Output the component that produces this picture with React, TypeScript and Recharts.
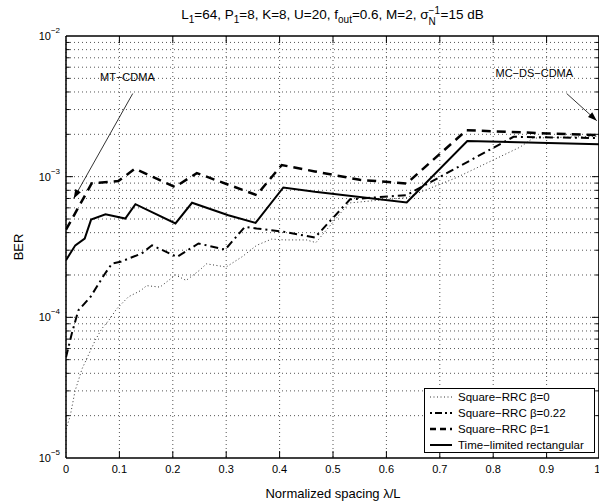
import React from "react";
import {
  LineChart,
  Line,
  XAxis,
  YAxis,
  CartesianGrid,
  ReferenceLine,
  ReferenceDot,
} from "recharts";

const FONT = '"Liberation Sans", Arial, Helvetica, sans-serif';

// normalized spacing λ/L and BER for each pulse shape
const rrc0X = [0, 0.008, 0.017, 0.03, 0.043, 0.055, 0.067, 0.08, 0.095, 0.117, 0.14, 0.151, 0.176, 0.205, 0.225, 0.25, 0.263, 0.3, 0.33, 0.357, 0.385, 0.41, 0.45, 0.468, 0.53, 0.638, 0.73, 0.85, 0.875, 1];
const rrc0Y = [1.6e-5, 2.0e-5, 3.0e-5, 4.3e-5, 5.5e-5, 6.9e-5, 8.3e-5, 9.5e-5, 1.15e-4, 1.4e-4, 1.55e-4, 1.68e-4, 1.64e-4, 2.0e-4, 1.83e-4, 2.16e-4, 2.4e-4, 2.28e-4, 2.7e-4, 3.25e-4, 3.6e-4, 3.55e-4, 3.55e-4, 3.4e-4, 6.5e-4, 7.1e-4, 9.8e-4, 1.62e-3, 1.88e-3, 1.94e-3];

const rrc022X = [0, 0.011, 0.023, 0.046, 0.071, 0.086, 0.102, 0.142, 0.161, 0.208, 0.248, 0.298, 0.335, 0.357, 0.41, 0.466, 0.532, 0.638, 0.838, 1];
const rrc022Y = [5.2e-5, 7.7e-5, 1.12e-4, 1.4e-4, 1.99e-4, 2.41e-4, 2.48e-4, 2.85e-4, 3.25e-4, 2.69e-4, 3.35e-4, 3.03e-4, 4.4e-4, 4.28e-4, 4.05e-4, 3.69e-4, 6.9e-4, 7.4e-4, 1.92e-3, 1.88e-3];

const rrc1X = [0, 0.016, 0.048, 0.098, 0.129, 0.204, 0.245, 0.357, 0.404, 0.466, 0.55, 0.638, 0.75, 0.9, 1];
const rrc1Y = [4.2e-4, 5.4e-4, 8.95e-4, 9.3e-4, 1.14e-3, 8.45e-4, 1.06e-3, 7.4e-4, 1.21e-3, 1.09e-3, 9.5e-4, 8.95e-4, 2.14e-3, 2.03e-3, 1.97e-3];

const rectX = [0, 0.0174, 0.035, 0.047, 0.074, 0.111, 0.13, 0.205, 0.236, 0.304, 0.355, 0.407, 0.466, 0.638, 0.7515, 1];
const rectY = [2.55e-4, 3.25e-4, 3.63e-4, 4.95e-4, 5.4e-4, 5.04e-4, 6.37e-4, 4.65e-4, 6.52e-4, 5.32e-4, 4.69e-4, 8.38e-4, 7.8e-4, 6.55e-4, 1.79e-3, 1.7e-3];

const xTicks = [0, 0.1, 0.2, 0.3, 0.4, 0.5, 0.6, 0.7, 0.8, 0.9, 1];
const yTicks = [1e-5, 1e-4, 1e-3, 1e-2];
const yMinor = [
  2e-5, 3e-5, 4e-5, 5e-5, 6e-5, 7e-5, 8e-5, 9e-5,
  2e-4, 3e-4, 4e-4, 5e-4, 6e-4, 7e-4, 8e-4, 9e-4,
  2e-3, 3e-3, 4e-3, 5e-3, 6e-3, 7e-3, 8e-3, 9e-3,
];

const zip = (xs: number[], ys: number[]) => xs.map((x, i) => ({ lambda: x, ber: ys[i] }));

const series = [
  { name: "Square\u2212RRC \u03b2=0", data: zip(rrc0X, rrc0Y), width: 1, dash: "1 2.5", legendDash: "1 2.5", color: "#333" },
  { name: "Square\u2212RRC \u03b2=0.22", data: zip(rrc022X, rrc022Y), width: 2, dash: "8 4 2 4", legendDash: "2 3 7 3 2 3", color: "#000" },
  { name: "Square\u2212RRC \u03b2=1", data: zip(rrc1X, rrc1Y), width: 2.5, dash: "9 6", legendDash: "6 4", color: "#000" },
  { name: "Time\u2212limited rectangular", data: zip(rectX, rectY), width: 2, dash: undefined, legendDash: undefined, color: "#000" },
];

function PowTick({ x, y, payload }: any) {
  const exp = Math.round(Math.log10(payload.value));
  return (
    <text x={x} y={y} textAnchor="end" fontSize={11} fontFamily={FONT} fill="#000">
      <tspan dy={4}>10</tspan>
      <tspan dy={-7} fontSize={8}>{`\u2212${-exp}`}</tspan>
    </text>
  );
}

function Arrow({ x1, y1, x2, y2 }: any) {
  const a = Math.atan2(y2 - y1, x2 - x1);
  const len = 9;
  const w = 3.2;
  const bx = x2 - len * Math.cos(a);
  const by = y2 - len * Math.sin(a);
  const pts = `${x2},${y2} ${bx + w * Math.sin(a)},${by - w * Math.cos(a)} ${bx - w * Math.sin(a)},${by + w * Math.cos(a)}`;
  return (
    <g>
      <line x1={x1} y1={y1} x2={x2} y2={y2} stroke="#000" strokeWidth={0.8} />
      <polygon points={pts} fill="#000" />
    </g>
  );
}

const noteText = (text: string) => (p: any) => (
  <text x={p.cx} y={p.cy} textAnchor="middle" dominantBaseline="central" fontSize={11} fontFamily={FONT} fill="#000">
    {text}
  </text>
);

const gridStyle = { stroke: "#555", strokeDasharray: "1 3", strokeWidth: 1 };

export default function App() {
  return (
    <div style={{ position: "absolute", left: 0, top: 0, width: 599, height: 504, overflow: "hidden", background: "#fff", fontFamily: FONT }}>
      <LineChart width={600} height={504} margin={{ top: 36, right: 0, bottom: 16, left: 6 }}>
        <CartesianGrid horizontal={false} {...gridStyle} />
        {[...yMinor, 1e-4, 1e-3].map((v) => (
          <ReferenceLine key={`g${v}`} y={v} {...gridStyle} />
        ))}
        <XAxis
          type="number"
          dataKey="lambda"
          domain={[0, 1]}
          ticks={xTicks}
          allowDataOverflow
          height={30}
          tickSize={5}
          tickMargin={2}
          tickLine={false}
          tick={{ fontSize: 11, fill: "#000", fontFamily: FONT }}
          axisLine={{ stroke: "#000", strokeWidth: 1.5 }}
        />
        <YAxis
          type="number"
          scale="log"
          domain={[1e-5, 1e-2]}
          ticks={yTicks}
          allowDataOverflow
          width={60}
          tickSize={4}
          tickMargin={2}
          tickLine={false}
          tick={<PowTick />}
          axisLine={{ stroke: "#000", strokeWidth: 1.5 }}
        />
        <ReferenceLine y={1e-2} stroke="#000" strokeWidth={1.5} />
        <ReferenceLine x={0.998} stroke="#000" strokeWidth={1.5} />
        {xTicks.slice(1, -1).map((v) => (
          <ReferenceLine key={`tb${v}`} segment={[{ x: v, y: 1e-5 }, { x: v, y: 1.12e-5 }]} stroke="#000" />
        ))}
        {xTicks.slice(1, -1).map((v) => (
          <ReferenceLine key={`tt${v}`} segment={[{ x: v, y: 1e-2 }, { x: v, y: 8.9e-3 }]} stroke="#000" />
        ))}
        {yTicks.slice(1, -1).map((v) => (
          <ReferenceLine key={`tl${v}`} segment={[{ x: 0, y: v }, { x: 0.013, y: v }]} stroke="#000" />
        ))}
        {yTicks.slice(1, -1).map((v) => (
          <ReferenceLine key={`tr${v}`} segment={[{ x: 0.998, y: v }, { x: 0.985, y: v }]} stroke="#000" />
        ))}
        {yMinor.map((v) => (
          <ReferenceLine key={`ml${v}`} segment={[{ x: 0, y: v }, { x: 0.007, y: v }]} stroke="#000" />
        ))}
        {yMinor.map((v) => (
          <ReferenceLine key={`mr${v}`} segment={[{ x: 0.998, y: v }, { x: 0.991, y: v }]} stroke="#000" />
        ))}
        {series.map((s) => (
          <Line
            key={s.name}
            data={s.data}
            dataKey="ber"
            name={s.name}
            type="linear"
            stroke={s.color}
            strokeWidth={s.width}
            strokeDasharray={s.dash}
            dot={false}
            activeDot={false}
            isAnimationActive={false}
          />
        ))}
        <ReferenceLine segment={[{ x: 0.125, y: 3.9e-3 }, { x: 0.0144, y: 7.0e-4 }]} shape={<Arrow />} />
        <ReferenceLine segment={[{ x: 0.9376, y: 3.9e-3 }, { x: 0.994, y: 2.5e-3 }]} shape={<Arrow />} />
        <ReferenceDot x={0.115} y={5.13e-3} r={0} shape={noteText("MT\u2212CDMA")} />
        <ReferenceDot x={0.877} y={5.46e-3} r={0} shape={noteText("MC\u2212DS\u2212CDMA")} />
      </LineChart>

      {/* title */}
      <div style={{ position: "absolute", left: 66, width: 533, top: 6, textAlign: "center", fontSize: 13.5, lineHeight: "18px", color: "#000", whiteSpace: "nowrap" }}>
        L<Sub>1</Sub>=64, P<Sub>1</Sub>=8, K=8, U=20, f<Sub>out</Sub>=0.6, M=2, {"\u03c3"}
        <span style={{ position: "relative", display: "inline-block", width: 12, height: 10 }}>
          <span style={{ position: "absolute", left: 0, top: -7, fontSize: 10 }}>{"\u2212"}1</span>
          <span style={{ position: "absolute", left: 0, top: 4, fontSize: 10 }}>N</span>
        </span>
        =15 dB
      </div>

      {/* axis titles */}
      <div style={{ position: "absolute", left: 18, top: 247, transform: "translate(-50%, -50%) rotate(-90deg)", fontSize: 13, whiteSpace: "nowrap" }}>
        BER
      </div>
      <div style={{ position: "absolute", left: 333, top: 493, transform: "translate(-50%, -50%)", fontSize: 13, whiteSpace: "nowrap" }}>
        Normalized spacing {"\u03bb"}/L
      </div>

      {/* legend */}
      <div style={{ position: "absolute", left: 424, top: 388, width: 171, height: 65, border: "1px solid #000", background: "#fff", boxSizing: "border-box", padding: "0 0 0 5px", fontSize: 11.5 }}>
        {series.map((s) => (
          <div key={s.name} style={{ display: "flex", alignItems: "center", height: 16 }}>
            <svg width={22} height={10}>
              <line x1={0} x2={22} y1={5} y2={5} stroke={s.color} strokeWidth={s.width} strokeDasharray={s.legendDash} />
            </svg>
            <span style={{ marginLeft: 6, whiteSpace: "nowrap" }}>{s.name}</span>
          </div>
        ))}
      </div>
    </div>
  );
}

function Sub({ children }: { children: React.ReactNode }) {
  return <span style={{ fontSize: 10, position: "relative", top: 4 }}>{children}</span>;
}
